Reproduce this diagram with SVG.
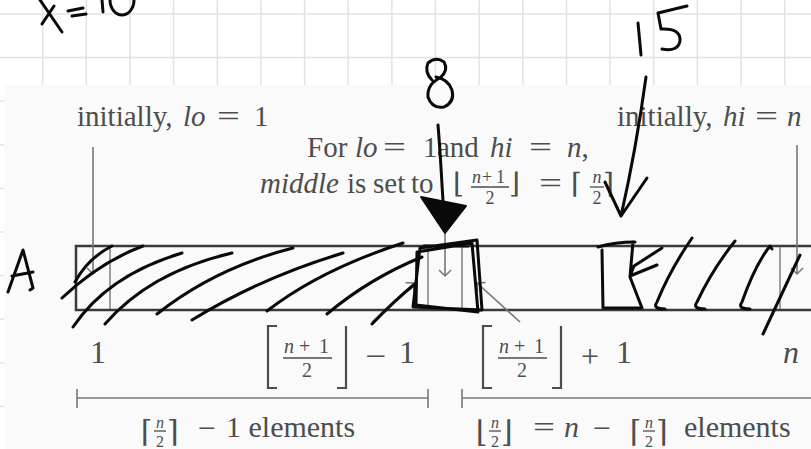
<svg xmlns="http://www.w3.org/2000/svg" width="811" height="449" viewBox="0 0 811 449">
<style>
.grid line{stroke:#e3e3e3;stroke-width:1.5}
.t{font-family:"Liberation Serif","Times New Roman",serif;fill:#4d4d4d}
.i{font-style:italic}
.d{font-family:"DejaVu Serif",serif;fill:#4d4d4d}
.g{stroke:#777;stroke-width:1.6;fill:none}
.frac{stroke:#4d4d4d;stroke-width:1.3}
.box{stroke:#3a3a3a;stroke-width:2.5;fill:none}
.cell{stroke:#888;stroke-width:1.6}
.ink{fill:none;stroke:#0a0a0a;stroke-width:3;stroke-linecap:round;stroke-linejoin:round}
.br{fill:none;stroke:#4d4d4d;stroke-width:2.2}
</style>
<defs>
<marker id="ga" markerUnits="userSpaceOnUse" markerWidth="14" markerHeight="14" refX="7" refY="7" orient="auto">
<path d="M1,1 L7,7 L1,13" fill="none" stroke="#777" stroke-width="1.5"/>
</marker>
</defs>
<rect width="811" height="449" fill="#ffffff"/>
<g id="grid" class="grid">
<line x1="42.7" y1="0" x2="42.7" y2="85"/><line x1="86.3" y1="0" x2="86.3" y2="85"/><line x1="130" y1="0" x2="130" y2="85"/><line x1="173.6" y1="0" x2="173.6" y2="85"/><line x1="217.3" y1="0" x2="217.3" y2="85"/><line x1="260.9" y1="0" x2="260.9" y2="85"/><line x1="304.6" y1="0" x2="304.6" y2="85"/><line x1="348.2" y1="0" x2="348.2" y2="85"/><line x1="391.9" y1="0" x2="391.9" y2="85"/><line x1="435.5" y1="0" x2="435.5" y2="85"/><line x1="479.2" y1="0" x2="479.2" y2="85"/><line x1="522.8" y1="0" x2="522.8" y2="85"/><line x1="566.5" y1="0" x2="566.5" y2="85"/><line x1="610.1" y1="0" x2="610.1" y2="85"/><line x1="653.8" y1="0" x2="653.8" y2="85"/><line x1="697.4" y1="0" x2="697.4" y2="85"/><line x1="741.1" y1="0" x2="741.1" y2="85"/><line x1="784.7" y1="0" x2="784.7" y2="85"/>
<line x1="0" y1="14" x2="811" y2="14"/><line x1="0" y1="57.6" x2="811" y2="57.6"/>
<line x1="0" y1="101.2" x2="4" y2="101.2"/><line x1="0" y1="144.8" x2="4" y2="144.8"/><line x1="0" y1="188.4" x2="4" y2="188.4"/><line x1="0" y1="232" x2="4" y2="232"/><line x1="0" y1="275.6" x2="4" y2="275.6"/><line x1="0" y1="319.2" x2="4" y2="319.2"/><line x1="0" y1="362.8" x2="4" y2="362.8"/><line x1="0" y1="406.4" x2="4" y2="406.4"/>
</g>
<rect id="page" x="4" y="85" width="807" height="364" fill="#fafafa"/>
<g id="top-texts" font-size="29">
<text class="t" x="77" y="126">initially, <tspan class="i" x="183">lo</tspan><tspan x="254">1</tspan></text>
<text class="t" x="217" y="126" textLength="23" lengthAdjust="spacingAndGlyphs">=</text>
<text class="t" x="617" y="126">initially, <tspan class="i" x="723">hi</tspan><tspan class="i" x="787">n</tspan></text>
<text class="t" x="755" y="126" textLength="23" lengthAdjust="spacingAndGlyphs">=</text>
<text class="t" x="307" y="157">For <tspan class="i" x="355">lo</tspan><tspan x="423">1</tspan><tspan x="437">and</tspan><tspan class="i" x="490">hi</tspan><tspan class="i" x="567">n</tspan>,</text>
<text class="t" x="383" y="157" textLength="23" lengthAdjust="spacingAndGlyphs">=</text>
<text class="t" x="529" y="157" textLength="23" lengthAdjust="spacingAndGlyphs">=</text>
<text class="t" x="260" y="193"><tspan class="i">middle</tspan><tspan x="347">is</tspan><tspan x="373">set</tspan><tspan x="411">to</tspan></text>
<text class="t" x="539" y="193" textLength="23" lengthAdjust="spacingAndGlyphs">=</text>
<text class="d" x="453" y="193" font-size="28">⌊</text>
<text class="d" x="509" y="193" font-size="28">⌋</text>
<text class="d" x="571" y="193" font-size="28">⌈</text>
<text class="d" x="603" y="193" font-size="28">⌉</text>
<text class="t" y="183" font-size="18"><tspan class="i" x="472">n</tspan><tspan x="482">+</tspan><tspan x="496">1</tspan></text>
<line class="frac" x1="471" y1="187" x2="509" y2="187"/>
<text class="t" x="490" y="204" font-size="18" text-anchor="middle">2</text>
<text class="t i" x="597" y="183" font-size="18" text-anchor="middle">n</text>
<line class="frac" x1="590" y1="187" x2="604" y2="187"/>
<text class="t" x="597" y="204" font-size="18" text-anchor="middle">2</text>
</g>
<g id="array">
<path class="box" d="M815,246 H76 V310 H815"/>
<line class="cell" x1="110" y1="247" x2="110" y2="309"/>
<line class="cell" x1="428" y1="247" x2="428" y2="309"/>
<line class="cell" x1="462" y1="247" x2="462" y2="309"/>
<line class="cell" x1="780" y1="247" x2="780" y2="309"/>
</g>
<g id="index-labels" font-size="32">
<text class="t" x="90" y="363">1</text>
<path class="br" d="M277,326 H268 V388 H277 M337,388 H346 V326"/>
<text class="t" y="353" font-size="20"><tspan class="i" x="284">n</tspan><tspan x="299">+</tspan><tspan x="319">1</tspan></text>
<line class="frac" x1="283" y1="358" x2="332" y2="358"/>
<text class="t" x="307" y="377" font-size="20" text-anchor="middle">2</text>
<text class="t" x="365" y="367" textLength="21" lengthAdjust="spacingAndGlyphs">−</text>
<text class="t" x="399" y="363">1</text>
<path class="br" d="M492,326 H483 V388 H492 M552,388 H561 V326"/>
<text class="t" y="353" font-size="20"><tspan class="i" x="499">n</tspan><tspan x="514">+</tspan><tspan x="534">1</tspan></text>
<line class="frac" x1="498" y1="358" x2="547" y2="358"/>
<text class="t" x="522" y="377" font-size="20" text-anchor="middle">2</text>
<text class="t" x="581" y="367">+</text>
<text class="t" x="616" y="363">1</text>
<text class="t i" x="783" y="363">n</text>
</g>
<g id="dimensions">
<line class="g" x1="77" y1="398" x2="428" y2="398"/>
<line class="g" x1="77" y1="389" x2="77" y2="408"/>
<line class="g" x1="428" y1="389" x2="428" y2="408"/>
<line class="g" x1="462" y1="398" x2="811" y2="398"/>
<line class="g" x1="462" y1="389" x2="462" y2="408"/>
</g>
<g id="count-labels" font-size="30">
<text class="d" x="141" y="442" font-size="30">⌈</text>
<text class="t i" x="160" y="428" font-size="16" text-anchor="middle">n</text>
<line class="frac" x1="154" y1="431" x2="166" y2="431"/>
<text class="t" x="160" y="447" font-size="16" text-anchor="middle">2</text>
<text class="d" x="167" y="442" font-size="30">⌉</text>
<text class="t" x="198" y="438" textLength="18" lengthAdjust="spacingAndGlyphs">−</text>
<text class="t" x="226" y="437">1 elements</text>
<text class="d" x="476" y="442" font-size="30">⌊</text>
<text class="t i" x="495" y="428" font-size="16" text-anchor="middle">n</text>
<line class="frac" x1="489" y1="431" x2="501" y2="431"/>
<text class="t" x="495" y="447" font-size="16" text-anchor="middle">2</text>
<text class="d" x="501" y="442" font-size="30">⌋</text>
<text class="t" x="533" y="437" textLength="22" lengthAdjust="spacingAndGlyphs">=</text>
<text class="t i" x="564" y="437">n</text>
<text class="t" x="593" y="438" textLength="18" lengthAdjust="spacingAndGlyphs">−</text>
<text class="d" x="630" y="442" font-size="30">⌈</text>
<text class="t i" x="649" y="428" font-size="16" text-anchor="middle">n</text>
<line class="frac" x1="643" y1="431" x2="655" y2="431"/>
<text class="t" x="649" y="447" font-size="16" text-anchor="middle">2</text>
<text class="d" x="656" y="442" font-size="30">⌉</text>
<text class="t" x="684" y="437">elements</text>
</g>
<g id="connectors">
<line class="g" x1="93" y1="147" x2="93" y2="274" marker-end="url(#ga)"/>
<line class="g" x1="797" y1="145" x2="797" y2="274" marker-end="url(#ga)"/>
<line class="g" x1="445" y1="205" x2="445" y2="276" marker-end="url(#ga)"/>
<line class="g" x1="372" y1="322" x2="414" y2="283" marker-end="url(#ga)"/>
<line class="g" x1="520" y1="322" x2="477" y2="283" marker-end="url(#ga)"/>
<path class="ink" stroke-width="5" d="M438,125 C441,160 442,190 444,215"/>
<polygon points="421,197 466,206 445,233" fill="#0a0a0a" stroke="#0a0a0a" stroke-width="2" stroke-linejoin="round"/>
<path class="ink" d="M646,77 Q636,150 621,216 M605,182 L621,216 L647,178"/>
</g>
<g id="ink-marks">
<path class="ink" d="M40,0 L62,32 M54,6 L42,24 M68,11 L83,8 M72,16 L86,14 M102,0 L103,12"/>
<ellipse class="ink" cx="122" cy="0" rx="12" ry="15"/>
<path class="ink" d="M638,23 L641,55 M687,6 L658,13 L661,29 Q681,28 680,41 Q678,52 662,49"/>
<path class="ink" d="M432,80 Q424,72 428,63 Q436,56 444,62 Q449,70 440,78 Q427,84 428,97 Q432,109 444,107 Q455,102 452,90 Q448,79 436,77"/>
<path class="ink" d="M8,292 L23,250 L33,288 L30,290 M12,276 L33,272"/>
<path class="ink" d="M75,282 Q88,258 112,246 M62,298 Q100,262 143,246 M73,327 Q108,275 182,253 M105,324 Q150,272 232,253 M157,314 Q215,268 293,248 M192,320 Q260,278 343,253 M267,311 Q320,270 403,243 M327,314 Q370,278 422,257 M372,324 Q395,300 415,284"/>
<path class="ink" d="M420,248 L477,240 L482,310 L413,307 Z M417,252 L472,243 L478,312 L416,305 Z M424,246 L468,246"/>
<path class="ink" d="M598,247 Q615,242 635,242 M602,250 L603,308 L642,308 M633,242 L630,277 L642,308 M662,248 L634,266 L630,276 L657,265"/>
<path class="ink" d="M665,309 Q652,309 657,302 Q670,270 692,238 M705,309 Q692,309 697,302 Q712,270 735,241 M750,309 Q737,309 742,302 Q755,265 770,246 L772,249 M763,334 L800,255"/>
</g>
</svg>
